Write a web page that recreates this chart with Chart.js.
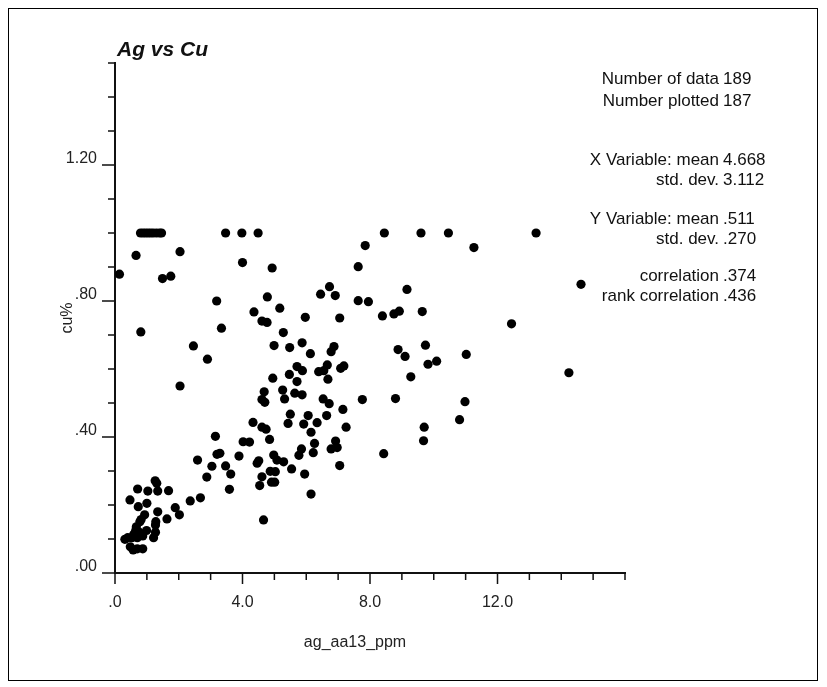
<!DOCTYPE html>
<html>
<head>
<meta charset="utf-8">
<script src="https://cdn.jsdelivr.net/npm/chart.js@4.4.1/dist/chart.umd.min.js"></script>
<style>
html,body{margin:0;padding:0;background:#fff;}
#wrap{position:relative;width:827px;height:687px;}
#frame{position:absolute;left:8px;top:8px;width:810px;height:673px;border:1px solid #000;box-sizing:border-box;}
canvas{position:absolute;left:0;top:0;}
</style>
</head>
<body>
<div id="wrap"><div id="frame"></div><canvas id="agCuChart" width="827" height="687"></canvas></div>
<script>
// Ag (ppm) and Cu (%), same order in both arrays
const agPpm = [
0.80,0.88,0.96,1.04,1.12,1.20,1.30,1.40,1.46,3.47,
3.98,4.49,8.45,9.60,10.46,13.21,
0.66,0.14,2.04,1.49,1.75,4.00,4.93,0.81,3.19,3.34,
2.46,2.90,4.36,4.61,4.77,4.78,5.17,5.28,4.99,5.48,
5.87,6.13,5.97,6.45,6.73,6.91,7.05,7.63,7.63,6.87,
6.78,4.95,5.47,5.71,5.88,6.39,6.55,6.66,7.08,7.18,
6.68,7.85,11.26,9.16,7.95,14.62,8.39,8.75,8.92,9.64,
12.44,8.88,9.10,9.74,11.02,9.82,10.09,9.28,14.24,7.76,
8.80,10.98,7.15,10.81,7.25,9.70,9.68,8.43,6.97,7.05,
6.53,6.72,6.06,6.64,5.92,6.34,6.15,6.92,6.26,6.78,
6.22,5.85,5.77,5.95,6.15,5.87,4.61,4.70,5.32,5.64,
5.50,5.43,4.33,4.61,4.74,4.85,3.15,4.02,4.22,3.20,
3.29,3.89,3.04,3.47,3.63,2.88,3.59,4.98,5.08,5.29,
4.51,4.46,4.87,5.03,4.61,4.91,5.01,4.54,5.54,4.66,
5.71,4.68,5.26,2.04,0.47,0.71,1.03,1.26,1.31,1.34,
1.68,0.73,1.00,1.34,1.89,1.63,2.02,2.36,2.68,2.59,
0.93,1.28,0.78,0.67,
0.31,0.40,0.53,0.59,0.65,0.82,0.48,0.57,0.70,0.87,
0.70,0.76,0.99,0.87,1.21,1.27,1.27
]
const cuPct = [
1.00,1.00,1.00,1.00,1.00,1.00,1.00,1.00,1.00,1.00,
1.00,1.00,1.00,1.00,1.00,1.00,
0.934,0.879,0.945,0.866,0.873,0.913,0.897,0.709,0.800,0.720,
0.668,0.629,0.768,0.741,0.737,0.812,0.779,0.707,0.669,0.663,
0.677,0.645,0.752,0.820,0.842,0.816,0.750,0.901,0.801,0.666,
0.651,0.573,0.584,0.607,0.595,0.592,0.595,0.612,0.602,0.609,
0.570,0.963,0.957,0.834,0.798,0.849,0.756,0.762,0.770,0.769,
0.733,0.657,0.637,0.670,0.643,0.614,0.623,0.577,0.589,0.510,
0.513,0.504,0.481,0.451,0.429,0.429,0.389,0.351,0.369,0.316,
0.512,0.498,0.463,0.463,0.438,0.442,0.414,0.388,0.381,0.365,
0.354,0.365,0.346,0.291,0.232,0.524,0.510,0.502,0.512,0.529,
0.467,0.440,0.443,0.429,0.423,0.393,0.402,0.386,0.385,0.349,
0.352,0.344,0.314,0.315,0.291,0.282,0.246,0.347,0.332,0.327,
0.330,0.323,0.299,0.298,0.283,0.267,0.267,0.257,0.306,0.156,
0.563,0.533,0.538,0.550,0.215,0.247,0.241,0.271,0.264,0.241,
0.242,0.195,0.205,0.180,0.192,0.159,0.171,0.212,0.221,0.332,
0.171,0.151,0.151,0.136,
0.099,0.104,0.104,0.114,0.125,0.157,0.077,0.068,0.071,0.071,
0.104,0.120,0.125,0.109,0.104,0.120,0.141
]

// axis ranges / labelled ticks
const xRange = [0, 16]
const xStep = 1
const xLabelEvery = 4
const yRange = [0, 1.5]
const yStep = 0.1
const yLabelEvery = 0.4

const statLabels = ['Number of data','Number plotted','X Variable: mean','std. dev.','Y Variable: mean','std. dev.','correlation','rank correlation']
const statValues = ['189','187','4.668','3.112','.511','.270','.374','.436']
const statRows = [79,101,160,180,219,239,276,296]

const FONT = '"Liberation Sans", Arial, sans-serif'

function isMajor(v, every, max){
  if (v >= max) return false
  const r = v / every
  return Math.abs(r - Math.round(r)) < 1e-6
}
function dropZero(s){
  return s.charAt(0) === '0' ? s.slice(1) : s
}

const points = agPpm.map((x, i) => ({x: x, y: cuPct[i]}))

const tickMarks = {
  id: 'tickMarks',
  afterDraw(chart){
    const c = chart.ctx
    const xs = chart.scales.x
    const ys = chart.scales.y
    c.save()
    c.strokeStyle = '#111'
    c.lineWidth = 1.5
    c.beginPath()
    xs.ticks.forEach(t => {
      const px = xs.getPixelForValue(t.value)
      const len = isMajor(t.value, xLabelEvery, xRange[1]) ? 11 : 7
      c.moveTo(px, xs.top)
      c.lineTo(px, xs.top + len)
    })
    ys.ticks.forEach(t => {
      const py = ys.getPixelForValue(t.value)
      const len = isMajor(t.value, yLabelEvery, yRange[1]) ? 13 : 7
      c.moveTo(ys.right, py)
      c.lineTo(ys.right - len, py)
    })
    c.stroke()

    // title
    c.fillStyle = '#111'
    c.font = 'italic bold 21px ' + FONT
    c.textAlign = 'left'
    c.textBaseline = 'alphabetic'
    c.fillText('Ag vs Cu', 117, 56)

    // x axis title sits left of the axis centre in the original
    c.fillStyle = '#222'
    c.font = '16px ' + FONT
    c.textAlign = 'center'
    c.textBaseline = 'middle'
    c.fillText('ag_aa13_ppm', 355, 643)

    // summary statistics
    c.fillStyle = '#111'
    c.font = '17px ' + FONT
    statLabels.forEach((lab, i) => {
      c.textAlign = 'right'
      c.fillText(lab, 719, statRows[i])
      c.textAlign = 'left'
      c.fillText(statValues[i], 723, statRows[i])
    })
    c.restore()
  }
}

document.addEventListener("DOMContentLoaded", function(){

const ctx = document.getElementById('agCuChart')

new Chart(ctx, {
  type: 'scatter',
  data: {
    datasets: [{
      label: 'Ag vs Cu',
      data: points,
      backgroundColor: '#000',
      borderWidth: 0,
      pointRadius: 4.6,
      pointHoverRadius: 4.6
    }]
  },
  options: {
    responsive: false,
    animation: false,
    layout: {
      padding: {left: 50, right: 827 - 625, top: 63, bottom: 30}
    },
    plugins: {
      legend: {display: false},
      tooltip: {enabled: false}
    },
    scales: {
      x: {
        type: 'linear',
        min: xRange[0],
        max: xRange[1],
        afterFit: function(scale){ scale.height = 687 - 30 - 573 },
        grid: {display: true, drawOnChartArea: false, drawTicks: false},
        border: {display: true, color: '#111', width: 2},
        ticks: {
          stepSize: xStep,
          autoSkip: false,
          maxRotation: 0,
          padding: 20,
          color: '#222',
          font: {family: FONT, size: 16},
          callback: function(v){ return isMajor(v, xLabelEvery, xRange[1]) ? dropZero(v.toFixed(1)) : '' }
        }
      },
      y: {
        type: 'linear',
        min: yRange[0],
        max: yRange[1],
        afterFit: function(scale){ scale.width = 115 - 50 },
        grid: {display: true, drawOnChartArea: false, drawTicks: false},
        border: {display: true, color: '#111', width: 2},
        ticks: {
          stepSize: yStep,
          autoSkip: false,
          padding: 18,
          labelOffset: -6,
          color: '#222',
          font: {family: FONT, size: 16},
          callback: function(v){ return isMajor(v, yLabelEvery, yRange[1]) ? dropZero(v.toFixed(2)) : '' }
        },
        title: {
          display: true,
          text: 'cu%',
          color: '#222',
          font: {family: FONT, size: 16},
          padding: {top: 8, bottom: 0}
        }
      }
    }
  },
  plugins: [tickMarks]
})

})
</script>
</body>
</html>
